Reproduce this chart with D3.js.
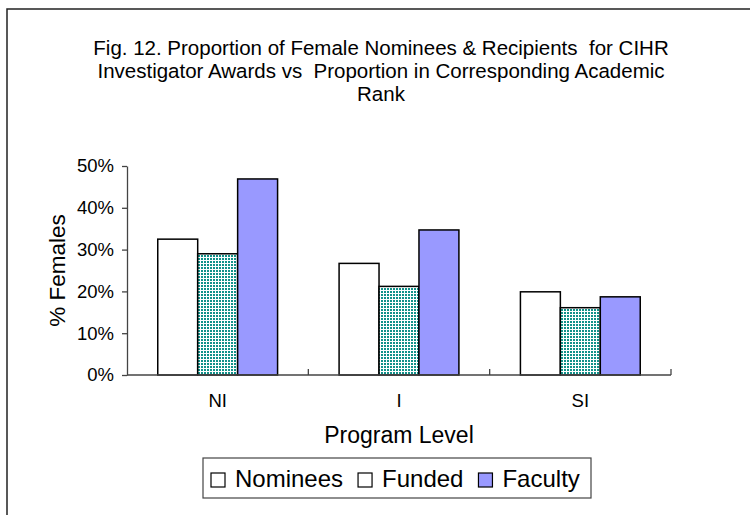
<!DOCTYPE html>
<html>
<head>
  <meta charset="utf-8">
  <title>Fig. 12</title>
  <style>
    body { margin: 0; background: #fff; }
    text { font-family: "Liberation Sans", Arial, sans-serif; fill: #000; white-space: pre; }
  </style>
</head>
<body>
  <script src="https://cdn.jsdelivr.net/npm/d3@7"></script>
  <script>
  'use strict'

  const categories = ["NI", "I", "SI"]
  const series = ["Nominees", "Funded", "Faculty"]
  const nominees = [0.325, 0.267, 0.199]
  const funded = [0.290, 0.212, 0.161]
  const faculty = [0.469, 0.347, 0.187]
  const yTicks = [0, 0.1, 0.2, 0.3, 0.4, 0.5]
  const titleLines = [
    "Fig. 12. Proportion of Female Nominees & Recipients  for CIHR",
    "Investigator Awards vs  Proportion in Corresponding Academic",
    "Rank"
  ]

  const values = [nominees, funded, faculty]
  const fills = ["#fff", "url(#grid)", "#9999ff"]
  const legendFills = ["#fff", "#fff", "#9999ff"]

  const w = 750
  const h = 515
  const plot = { left: 127, right: 671, top: 166, bottom: 375 }

  const svg = d3.select("body")
    .append("svg")
    .attr("width", w)
    .attr("height", h)

  // checkered fill for the Funded series
  const pat = svg.append("defs").append("pattern")
    .attr("id", "grid")
    .attr("width", 3)
    .attr("height", 3)
    .attr("patternUnits", "userSpaceOnUse")
  pat.append("rect").attr("width", 3).attr("height", 3).attr("fill", "#fff")
  pat.append("rect").attr("width", 2).attr("height", 2).attr("fill", "#11918a")

  // outer frame (runs off the right and bottom edges)
  svg.append("rect")
    .attr("x", 7).attr("y", 9)
    .attr("width", 800).attr("height", 600)
    .attr("fill", "none")
    .attr("stroke", "#222")
    .attr("stroke-width", 1.5)

  svg.append("text")
    .attr("text-anchor", "middle")
    .attr("font-size", "20.5px")
    .selectAll("tspan")
    .data(titleLines)
    .enter()
    .append("tspan")
    .attr("x", 381)
    .attr("y", (d, i) => 55 + i * 23)
    .text(d => d)

  const x0 = d3.scaleBand()
    .domain(categories)
    .range([plot.left, plot.right])

  const x1 = d3.scaleBand()
    .domain(series)
    .range([0, x0.bandwidth()])
    .paddingOuter(0.77)

  const y = d3.scaleLinear()
    .domain([0, 0.5])
    .range([plot.bottom, plot.top])

  // bars
  series.forEach((s, si) => {
    svg.append("g")
      .selectAll("rect")
      .data(categories)
      .enter()
      .append("rect")
      .attr("x", d => x0(d) + x1(s))
      .attr("y", (d, i) => y(values[si][i]))
      .attr("width", x1.bandwidth())
      .attr("height", (d, i) => plot.bottom - y(values[si][i]))
      .attr("fill", fills[si])
      .attr("stroke", "#000")
      .attr("stroke-width", 1.5)
  })

  // y axis
  const yAxis = svg.append("g")
    .attr("transform", `translate(${plot.left},0)`)
    .call(d3.axisLeft(y).tickValues(yTicks).tickFormat(d3.format(".0%")).tickSize(5).tickSizeOuter(0).tickPadding(8))
  yAxis.select(".domain").attr("stroke", "#444").attr("stroke-width", 1.3)
  yAxis.selectAll(".tick line").attr("stroke", "#444").attr("stroke-width", 1.3)
  yAxis.selectAll(".tick text")
    .attr("font-size", "18.5px")
    .attr("font-family", "Liberation Sans, Arial, sans-serif")
    .attr("fill", "#000")

  // x axis: line, ticks between categories pointing up
  svg.append("line")
    .attr("x1", plot.left).attr("x2", plot.right)
    .attr("y1", plot.bottom).attr("y2", plot.bottom)
    .attr("stroke", "#444").attr("stroke-width", 1.3)

  svg.selectAll(".xtick")
    .data(categories.slice(1).concat(["end"]))
    .enter()
    .append("line")
    .attr("class", "xtick")
    .attr("x1", d => d === "end" ? plot.right : x0(d))
    .attr("x2", d => d === "end" ? plot.right : x0(d))
    .attr("y1", plot.bottom)
    .attr("y2", plot.bottom - 6)
    .attr("stroke", "#444").attr("stroke-width", 1.3)

  svg.selectAll(".xlabel")
    .data(categories)
    .enter()
    .append("text")
    .attr("class", "xlabel")
    .attr("x", d => x0(d) + x0.bandwidth() / 2)
    .attr("y", 407)
    .attr("text-anchor", "middle")
    .attr("font-size", "18.5px")
    .text(d => d)

  // axis titles
  svg.append("text")
    .attr("x", (plot.left + plot.right) / 2)
    .attr("y", 443)
    .attr("text-anchor", "middle")
    .attr("font-size", "23px")
    .text("Program Level")

  svg.append("text")
    .attr("transform", "translate(65,270.5) rotate(-90)")
    .attr("text-anchor", "middle")
    .attr("font-size", "22.5px")
    .text("% Females")

  // legend
  const legend = svg.append("g")
  legend.append("rect")
    .attr("x", 203).attr("y", 458)
    .attr("width", 388).attr("height", 40)
    .attr("fill", "#fff")
    .attr("stroke", "#444")
    .attr("stroke-width", 1.2)

  let lx = 211
  series.forEach((s, si) => {
    legend.append("rect")
      .attr("x", lx).attr("y", 473)
      .attr("width", 14).attr("height", 14)
      .attr("fill", legendFills[si])
      .attr("stroke", "#000")
      .attr("stroke-width", 1.2)
    const t = legend.append("text")
      .attr("x", lx + 24)
      .attr("y", 487)
      .attr("font-size", "24px")
      .text(s)
    lx += 24 + t.node().getComputedTextLength() + 15
  })
  </script>
</body>
</html>
